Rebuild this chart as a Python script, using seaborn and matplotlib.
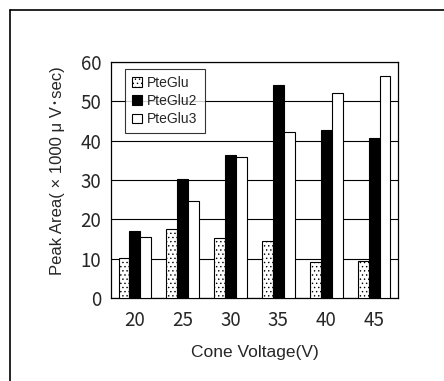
import matplotlib
matplotlib.use("Agg")
import matplotlib.pyplot as plt
from matplotlib.patches import Patch
from matplotlib.lines import Line2D
import pandas as pd
import numpy as np
import seaborn as sns

voltages = ["20", "25", "30", "35", "40", "45"]
series = ["PteGlu", "PteGlu2", "PteGlu3"]
pteglu = [10.2, 17.6, 15.3, 14.4, 9.2, 9.5]
pteglu2 = [17.0, 30.2, 36.4, 54.2, 42.6, 40.8]
pteglu3 = [15.5, 24.6, 35.9, 42.1, 52.1, 56.5]
y_ticks = [0, 10, 20, 30, 40, 50, 60]

df = pd.DataFrame({
    "voltage": voltages * 3,
    "series": ["PteGlu"] * 6 + ["PteGlu2"] * 6 + ["PteGlu3"] * 6,
    "area": pteglu + pteglu2 + pteglu3,
})

sns.set_style("white")
plt.rcParams["font.family"] = ["Liberation Sans", "Noto Sans CJK JP", "DejaVu Sans"]
plt.rcParams["hatch.color"] = "#a0a0a0"
plt.rcParams["hatch.linewidth"] = 0.5

fig = plt.figure(figsize=(4.44, 3.81), dpi=100)
ax = fig.add_axes([111 / 444, 1 - 298 / 381, 287 / 444, 236 / 381])

sns.barplot(data=df, x="voltage", y="area", hue="series", hue_order=series,
            order=voltages, width=0.68, gap=0, ax=ax, legend=False, zorder=3)

faces = ["white", "black", "white"]
hatches = ["....", None, None]
for cont, fc, h in zip(ax.containers, faces, hatches):
    for bar in cont:
        bar.set_facecolor(fc)
        bar.set_edgecolor("black")
        bar.set_linewidth(0.8)
        if h:
            bar.set_hatch(h)

ax.set_ylim(0, 60)
ax.set_yticks(y_ticks)
ax.set_xlim(-0.5, 5.5)
ax.yaxis.grid(True, color="black", linewidth=0.8, zorder=0)
ax.set_axisbelow(True)
for s in ax.spines.values():
    s.set_color("black")
    s.set_linewidth(0.9)
    s.set_visible(True)

digits = ["Noto Sans CJK JP", "DejaVu Sans"]
ax.tick_params(axis="x", length=0, pad=9)
ax.tick_params(axis="y", length=0, pad=7)
for lab in ax.get_xticklabels() + ax.get_yticklabels():
    lab.set_fontfamily(digits)
    lab.set_fontsize(13.5)
ax.set_xticks(np.arange(0.5, 5.5, 1), minor=True)
ax.tick_params(axis="x", which="minor", direction="in", length=5, width=0.8, color="black")

ax.set_xlabel("Cone Voltage(V)", fontsize=12.5, labelpad=10)
ax.set_ylabel("Peak Area( \u00d7 1000 \u03bc V\uff65sec)", fontsize=12)
ax.yaxis.set_label_coords(-0.16, 0.54)

handles = [Patch(facecolor=fc, edgecolor="black", hatch=h, linewidth=0.8)
           for fc, h in zip(faces, ["....", None, None])]
leg = ax.legend(handles, series, loc="upper left", bbox_to_anchor=(0.049, 0.970),
                borderaxespad=0, fontsize=10, frameon=True, fancybox=False,
                handlelength=0.7, handleheight=0.7, handletextpad=0.4,
                borderpad=0.5, labelspacing=0.3)
leg.get_frame().set_edgecolor("black")
leg.get_frame().set_linewidth(0.8)
leg.set_zorder(5)

# outer frame of the figure panel (top and left edges visible)
y_top = 1 - 9.5 / 381
x_left = 9.5 / 444
fig.add_artist(Line2D([x_left, 1.0], [y_top, y_top], transform=fig.transFigure,
                      color="black", linewidth=1.2))
fig.add_artist(Line2D([x_left, x_left], [0.0, y_top], transform=fig.transFigure,
                      color="black", linewidth=1.2))

fig.savefig("out.png", dpi=100)
